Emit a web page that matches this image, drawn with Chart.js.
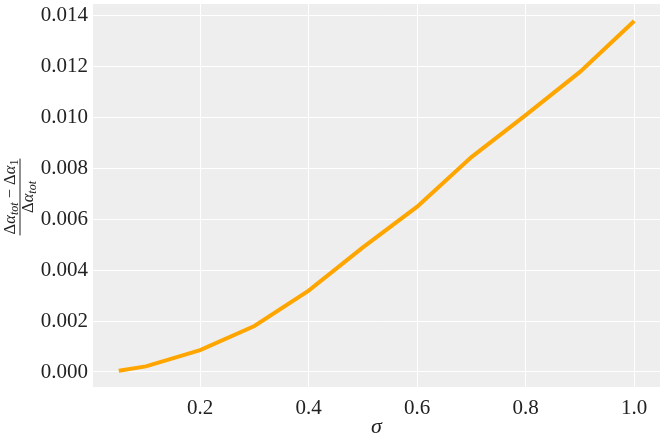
<!DOCTYPE html>
<html>
<head>
<meta charset="utf-8">
<script src="https://cdn.jsdelivr.net/npm/chart.js@4/dist/chart.umd.min.js"></script>
<style>
  html, body { margin: 0; padding: 0; background: #fff; }
  canvas { display: block; }
</style>
</head>
<body>
<canvas id="chart" width="665" height="443"></canvas>
<script>
// values
const sigma = [0.05, 0.1, 0.2, 0.3, 0.4, 0.5, 0.6, 0.7, 0.8, 0.9, 1.0];
const ratio = [0.00005, 0.00022, 0.00086, 0.00181, 0.0032, 0.0049, 0.0065, 0.00845, 0.0101, 0.0118, 0.0138];
const xTicks = [0.2, 0.4, 0.6, 0.8, 1.0];
const yTicks = [0, 0.002, 0.004, 0.006, 0.008, 0.010, 0.012, 0.014];

const serif = '"Liberation Serif", "DejaVu Serif", serif';
const ink = '#222';

// grey panel behind the plot
const panelBg = {
    id: 'panelBg',
    beforeDraw(chart) {
        const a = chart.chartArea;
        const ctx = chart.ctx;
        ctx.save();
        ctx.fillStyle = '#eeeeee';
        ctx.fillRect(a.left, a.top, a.right - a.left, a.bottom - a.top);
        ctx.restore();
    }
};

// y label drawn as a fraction: (Δα_tot − Δα_1) / Δα_tot
const fracLabel = {
    id: 'fracLabel',
    afterDraw(chart) {
        const ctx = chart.ctx;
        const big = '16.5px ' + serif;
        const bigIt = 'italic 16.5px ' + serif;
        const sub = 'italic 12px ' + serif;
        const subUp = '12px ' + serif;
        const num = [['Δ', big, 0], ['α', bigIt, 0], ['tot', sub, 3], [' − ', big, 0],
                     ['Δ', big, 0], ['α', bigIt, 0], ['1', subUp, 3]];
        const den = [['Δ', big, 0], ['α', bigIt, 0], ['tot', sub, 3]];

        function width(parts) {
            let w = 0;
            parts.forEach(p => { ctx.font = p[1]; w += ctx.measureText(p[0]).width; });
            return w;
        }
        function draw(parts, base) {
            let x = -width(parts) / 2;
            parts.forEach(p => {
                ctx.font = p[1];
                ctx.fillText(p[0], x, base + p[2]);
                x += ctx.measureText(p[0]).width;
            });
        }

        ctx.save();
        ctx.translate(20, 197);
        ctx.rotate(-Math.PI / 2);
        ctx.fillStyle = ink;
        ctx.textBaseline = 'alphabetic';
        ctx.textAlign = 'left';
        draw(num, -5);
        draw(den, 13);
        const w = width(num) + 2;
        ctx.fillRect(-w / 2, -0.5, w, 1);
        ctx.restore();
    }
};

new Chart(document.getElementById('chart'), {
    type: 'line',
    data: {
        datasets: [{
            data: sigma.map((s, i) => ({x: s, y: ratio[i]})),
            borderColor: '#ffa500',
            borderWidth: 4,
            pointRadius: 0,
            tension: 0,
            fill: false
        }]
    },
    options: {
        responsive: false,
        devicePixelRatio: 1,
        animation: false,
        layout: { padding: { top: 4, right: 5, left: 0, bottom: 0 } },
        plugins: {
            legend: { display: false },
            tooltip: { enabled: false }
        },
        scales: {
            x: {
                type: 'linear',
                min: 0.0025,
                max: 1.0475,
                afterBuildTicks: s => { s.ticks = xTicks.map(v => ({value: v})); },
                afterFit: s => { s.height = 56; s.paddingLeft = 0; s.paddingRight = 0; },
                grid: { color: '#ffffff', lineWidth: 1, drawTicks: false },
                border: { display: false },
                ticks: {
                    padding: 9,
                    color: ink,
                    font: { family: serif, size: 21 },
                    callback: v => v.toFixed(1)
                },
                title: {
                    display: true,
                    text: 'σ',
                    color: ink,
                    font: { family: serif, size: 22, style: 'italic' },
                    padding: { top: 0, bottom: 3 }
                }
            },
            y: {
                type: 'linear',
                min: -0.00059,
                max: 0.01447,
                afterBuildTicks: s => { s.ticks = yTicks.map(v => ({value: v})); },
                afterFit: s => { s.width = 93; s.paddingTop = 0; s.paddingBottom = 0; },
                grid: { color: '#ffffff', lineWidth: 1, drawTicks: false },
                border: { display: false },
                ticks: {
                    padding: 5,
                    color: ink,
                    font: { family: serif, size: 21 },
                    callback: v => v.toFixed(3)
                }
            }
        }
    },
    plugins: [panelBg, fracLabel]
});
</script>
</body>
</html>
